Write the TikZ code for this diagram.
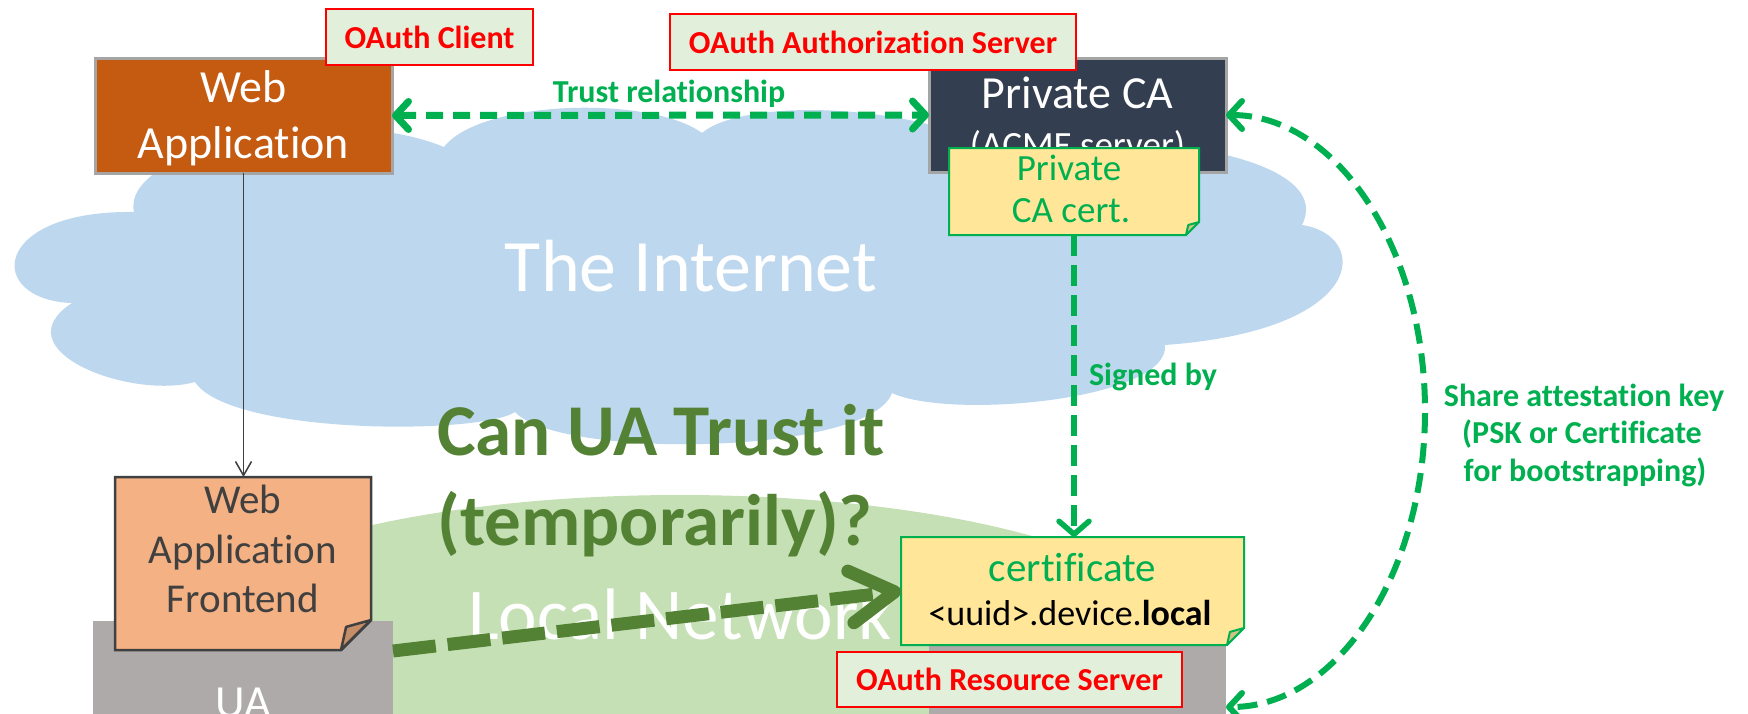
\documentclass[tikz,border=0pt]{standalone}
\usepackage{fontspec}
\setmainfont{Carlito}[Ligatures=NoCommon]
\usetikzlibrary{arrows.meta,calc}
\definecolor{webappc}{HTML}{C55A11}
\definecolor{cac}{HTML}{333F50}
\definecolor{boxborder}{HTML}{A5A5A5}
\definecolor{lblfill}{HTML}{E2EFDA}
\definecolor{lblred}{HTML}{FF0000}
\definecolor{cloudblue}{HTML}{BDD7EE}
\definecolor{lngreen}{HTML}{C5E0B4}
\definecolor{notefill}{HTML}{FFE699}
\definecolor{greenA}{HTML}{00B050}
\definecolor{darkgreen}{HTML}{548235}
\definecolor{uagrey}{HTML}{AEAAAA}
\definecolor{frfill}{HTML}{F4B183}
\definecolor{frdraw}{HTML}{404040}
\definecolor{frflap}{HTML}{C58E68}
\definecolor{noteflap}{HTML}{CFC383}
% #1 node, #2 fold size, #3 fill, #4 draw, #5 flap fill, #6 line width
\newcommand{\dognote}[6]{%
  \filldraw[fill=#3, draw=#4, line width=#6, line join=miter]
    (#1.north west) -- (#1.north east) -- ([yshift=#2]#1.south east)
    -- ([xshift=-#2]#1.south east) -- (#1.south west) -- cycle;
  \filldraw[fill=#5, draw=#4, line width=#6, line join=round]
    ([yshift=#2]#1.south east) -- ([xshift=-0.83*#2, yshift=0.77*#2]#1.south east)
    -- ([xshift=-#2]#1.south east) -- cycle;
}
\begin{document}
\begin{tikzpicture}[x=1pt, y=-1pt,
  boxwh/.style 2 args={minimum width=#1, minimum height=#2, inner sep=0pt, outer sep=0pt},
  txt/.style={inner sep=0pt, outer sep=0pt, anchor=base},
  lbl/.style={fill=lblfill, draw=lblred, line width=2pt, text=lblred,
    font=\bfseries\fontsize{32}{36}\selectfont, inner sep=0pt, outer sep=0pt},
  glabel/.style={txt, text=greenA, font=\bfseries\fontsize{32}{36}\selectfont},
  trustline/.style={draw=greenA, line width=7pt, dash pattern=on 17pt off 10pt,
    {Straight Barb[length=13pt,width=28pt,round]}-{Straight Barb[length=13pt,width=28pt,round]}},
  signedline/.style={draw=greenA, line width=5.5pt, dash pattern=on 21pt off 9pt,
    -{Straight Barb[length=13pt,width=30pt,round]}},
  sharearc/.style={draw=greenA, line width=6pt, dash pattern=on 20pt off 10pt,
    {Straight Barb[length=13pt,width=28pt,round]}-{Straight Barb[length=13pt,width=28pt,round]}},
  bigarrow/.style={draw=darkgreen, line width=13pt, dash pattern=on 43pt off 12pt,
    -{Straight Barb[length=44pt,width=52pt,round]}},
  thinarrow/.style={draw=frdraw, line width=1.5pt, -{Straight Barb[length=14pt,width=16pt]}}
]
\useasboundingbox (0,0) rectangle (1748,713);
\clip (0,0) rectangle (1748,713);

% The Internet cloud
\fill[cloudblue] (134,212)
 .. controls (120,150) and (330,100) .. (444,147)
 .. controls (480,100) and (650,95) .. (702,133)
 .. controls (740,100) and (900,100) .. (1000,150)
 .. controls (1100,125) and (1340,150) .. (1302,225)
 .. controls (1370,235) and (1370,330) .. (1165,345)
 .. controls (1170,400) and (950,420) .. (892,393)
 .. controls (870,455) and (560,460) .. (515,412)
 .. controls (480,435) and (230,435) .. (195,382)
 .. controls (130,400) and (0,350) .. (72,303)
 .. controls (-15,300) and (-10,210) .. (134,212) -- cycle;
% Local network ellipse
\fill[lngreen] (680,640) ellipse [x radius=505pt, y radius=145pt];

\node[txt, text=white, font=\fontsize{74}{80}\selectfont] (internet) at (691,291) {The Internet};
\node[txt, text=white, font=\fontsize{73}{80}\selectfont] (localnet) at (680,639) {Local Network};

% main boxes
\node[boxwh={297pt}{115pt}, fill=webappc, draw=boxborder, line width=3pt] (webapp) at (243.5,115.5) {};
\node[txt, text=white, font=\fontsize{46}{50}\selectfont] (webappA) at (243.5,102) {Web};
\node[txt, text=white, font=\fontsize{46}{50}\selectfont] (webappB) at (243.5,158) {Application};

\node[boxwh={297pt}{114pt}, fill=cac, draw=boxborder, line width=3pt] (ca) at (1077.5,115) {};
\node[txt, text=white, font=\fontsize{46}{50}\selectfont] (caA) at (1077.5,108) {Private CA};
\node[txt, text=white, font=\fontsize{37}{42}\selectfont] (caB) at (1077.5,157) {(ACME server)};

\node[boxwh={300pt}{162pt}, fill=uagrey] (ua) at (243,702) {};
\node[txt, text=white, font=\fontsize{46}{50}\selectfont] (uaA) at (243,717) {UA};

\node[boxwh={297pt}{174pt}, fill=uagrey] (res) at (1077.5,707) {};

% role labels
\node[lbl, minimum width=207pt, minimum height=56pt] (oclient) at (429.5,37) {OAuth Client};
\node[lbl, minimum width=406pt, minimum height=56pt] (oauthz) at (873,42) {OAuth Authorization Server};

% notes
\node[boxwh={250pt}{87pt}] (pcacert) at (1074,191.5) {};
\dognote{pcacert}{13pt}{notefill}{greenA}{noteflap}{2pt}
\node[txt, text=greenA, font=\fontsize{37}{42}\selectfont] (pcacertA) at (1069,180) {Private};
\node[txt, text=greenA, font=\fontsize{37}{42}\selectfont] (pcacertB) at (1071,222) {CA cert.};

\node[boxwh={256pt}{173pt}] (fnote) at (243,563.5) {};
\dognote{fnote}{30pt}{frfill}{frdraw}{frflap}{2.5pt}
\node[txt, text=frdraw, font=\fontsize{41}{48}\selectfont] (fnoteA) at (243,513) {Web};
\node[txt, text=frdraw, font=\fontsize{41}{48}\selectfont] (fnoteB) at (243,563) {Application};
\node[txt, text=frdraw, font=\fontsize{41}{48}\selectfont] (fnoteC) at (243,612) {Frontend};

\node[boxwh={343pt}{108pt}] (cert) at (1072.5,591) {};
\dognote{cert}{17pt}{notefill}{greenA}{noteflap}{2pt}
\node[txt, text=greenA, font=\fontsize{41}{44}\selectfont] (certA) at (1072.5,581) {certificate};
\node[txt, text=black, font=\fontsize{36}{42}\selectfont] (certB) at (1070,625) {<uuid>.device.\textbf{local}};

\node[lbl, minimum width=345pt, minimum height=55pt] (ores) at (1009.5,679.5) {OAuth Resource Server};

% connectors
\draw[trustline] (webapp.east) -- (ca.west);
\draw[thinarrow] (webapp.south) -- (webapp.south |- fnote.north);
\draw[signedline] (pcacert.south) -- (pcacert.south |- cert.north);
\draw[sharearc] (ca.east) .. controls (1336,115) and (1425,247) .. (1425,411)
   .. controls (1425,575) and (1336,707) .. (res.east);
\coordinate (bigstart) at ([yshift=-30pt]ua.north east);
\draw[bigarrow] (bigstart) -- (cert.west);

% connector labels
\node[glabel] (trustlbl) at (669,102) {Trust relationship};
\node[glabel, anchor=base west] (signedlbl) at (1089,385) {Signed by};
\node[glabel] (shareA) at (1584,406) {Share attestation key};
\node[glabel] (shareB) at (1582,443) {(PSK or Certificate};
\node[glabel] (shareC) at (1585,481) {for bootstrapping)};

% question
\node[txt, text=darkgreen, font=\bfseries\fontsize{73}{80}\selectfont] (qA) at (661,455) {Can UA Trust it};
\node[txt, text=darkgreen, font=\bfseries\fontsize{73}{80}\selectfont] (qB) at (655,545) {(temporarily)?};
\end{tikzpicture}
\end{document}
